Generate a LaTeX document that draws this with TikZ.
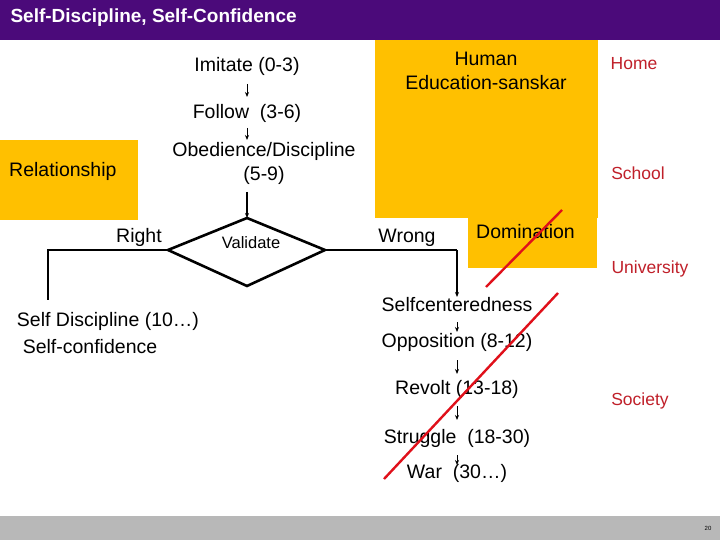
\documentclass[tikz,border=0pt]{standalone}
\usepackage{fontspec}
\setmainfont{Liberation Sans}
\usetikzlibrary{arrows.meta}
\begin{document}
\begin{tikzpicture}[x=1pt,y=-1pt,
  txt/.style={font=\fontsize{19.5}{22}\selectfont, inner sep=1pt, align=center},
  red lbl/.style={font=\fontsize{17.5}{20}\selectfont, text=lblred, inner sep=1pt},
  sarrow/.style={-{Stealth[length=5pt,width=4pt]}, line width=1pt},
  conn/.style={line width=1.6pt},
  strike/.style={draw=strikered, line width=2.4pt}]
\definecolor{boxy}{HTML}{FFC000}
\definecolor{lblred}{HTML}{C0202A}
\definecolor{strikered}{HTML}{E0101A}
\definecolor{titlebar}{HTML}{4B0A7A}
\useasboundingbox (0,0) rectangle (720,540);
\fill[white] (0,0) rectangle (720,540);
\fill[titlebar] (0,0) rectangle (720,40);
\node[anchor=west, text=white, font=\fontsize{19}{22}\selectfont\bfseries] (title) at (7,18) {Self-Discipline, Self-Confidence};
\fill[black!28] (0,516) rectangle (720,540);
\node[font=\fontsize{6}{7}\selectfont] (pg) at (708,528) {20};
% boxes
\fill[boxy] (375,40) rectangle (598,218);
\fill[boxy] (0,140) rectangle (138,220);
\fill[boxy] (468,213) rectangle (597,268);
\node[txt] (human) at (486,71) {Human\\[2pt]Education-sanskar};
\node[txt, anchor=west] (rel) at (8,171) {Relationship};
\node[txt, anchor=west] (dom) at (475,232) {Domination};
% left column
\node[txt] (imit) at (247,66) {Imitate (0-3)};
\node[txt] (foll) at (247,113) {Follow\ \ (3-6)};
\node[txt] (obed) at (264,163) {Obedience/Discipline\\[2pt](5-9)};
\draw[sarrow] (247,84) -- (247,97);
\draw[sarrow] (247,128) -- (247,140);
\draw[line width=2.6pt, line join=miter] (247,218) coordinate (dt) -- (325,250) coordinate (dr) -- (247,286) coordinate (db) -- (168,250) coordinate (dl) -- cycle;
\draw[sarrow, line width=1.6pt] (247,192) -- (dt);
\node[font=\fontsize{16.5}{19}\selectfont] (val) at (251,243) {Validate};
\node[txt] (right) at (139,237) {Right};
\node[txt] (wrong) at (407,238) {Wrong};
\coordinate (lc) at (48,250);
\coordinate (rc) at (457,250);
\coordinate (ld) at (48,300);
\draw[conn] (dl) -- (lc) -- (ld);
\node[txt] (sd) at (108,321) {Self Discipline (10\ldots)};
\node[txt] (sc) at (90,347) {Self-confidence};
\node[txt] (selfc) at (457,305) {Selfcenteredness};
\node[txt] (opp) at (457,342) {Opposition (8-12)};
\node[txt] (rev) at (457,389) {Revolt (13-18)};
\node[txt] (str) at (457,438) {Struggle\ \ (18-30)};
\node[txt] (war) at (457,473) {War\ \ (30\ldots)};
\draw[conn] (dr) -- (rc);
\draw[sarrow, line width=1.6pt] (rc) -- (457,297);
\draw[sarrow] (457,322) -- (457,332);
\draw[sarrow] (457,360) -- (457,374);
\draw[sarrow] (457,406) -- (457,420);
\draw[sarrow] (457,455) -- (457,465);
% red labels
\node[red lbl] (home) at (634,64) {Home};
\node[red lbl] (school) at (638,173) {School};
\node[red lbl] (univ) at (650,269) {University};
\node[red lbl] (soc) at (640,401) {Society};
% strikes
\draw[strike] (486,287) -- (562,210);
\draw[strike] (558,293) -- (384,479);
\end{tikzpicture}
\end{document}
